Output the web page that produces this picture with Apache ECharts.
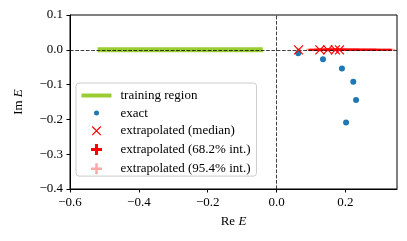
<!DOCTYPE html>
<html><head><meta charset="utf-8">
<script src="https://cdn.jsdelivr.net/npm/echarts@6/dist/echarts.min.js"></script>
<style>html,body{margin:0;padding:0;background:#fff}#c{width:407px;height:241px}</style>
</head><body><div id="c"></div>
<script>
// tick labels
const xTicks = [-0.6, -0.4, -0.2, 0.0, 0.2];
const yTicks = [-0.4, -0.3, -0.2, -0.1, 0.0, 0.1];
// training region (Re E extent, on the real axis)
const trainingRe = [-0.52, -0.04];
const trainingIm = [0, 0];
// exact eigenvalues
const exactRe = [0.063, 0.135, 0.190, 0.223, 0.231, 0.202];
const exactIm = [-0.010, -0.027, -0.054, -0.092, -0.144, -0.209];
// extrapolated medians
const medRe = [0.064, 0.126, 0.149, 0.171, 0.183];
const medIm = [0, 0, 0, 0, 0];
// 68.2% intervals (Re)
const lo68 = [0.061, 0.093, 0.110, 0.130, 0.140];
const hi68 = [0.067, 0.200, 0.240, 0.290, 0.335];
// 95.4% intervals (Re)
const lo95 = [0.058, 0.086, 0.096, 0.110, 0.120];
const hi95 = [0.070, 0.260, 0.300, 0.330, 0.345];
// reference lines
const refRe = 0;
const refIm = 0;

const FONT = 'Liberation Serif';
const fmt = v => (v < 0 ? '\u2212' : '') + Math.abs(v).toFixed(1);

const chart = echarts.init(document.getElementById('c'), null, {renderer: 'canvas'});

function barRender(color, width) {
  return function (params, api) {
    const a = api.coord([api.value(0), api.value(2)]);
    const b = api.coord([api.value(1), api.value(2)]);
    return {type: 'line', shape: {x1: a[0], y1: a[1], x2: b[0], y2: b[1]},
            style: {stroke: color, lineWidth: width, fill: null}};
  };
}

chart.setOption({
  animation: false,
  textStyle: {fontFamily: FONT},
  grid: {left: 70, right: 10, top: 15, bottom: 52, show: true, borderColor: '#000', borderWidth: 1, backgroundColor: 'transparent'},
  xAxis: {
    type: 'value', min: -0.6, max: 0.35, interval: 0.2,
    name: 'Re {i|E}', nameLocation: 'middle', nameGap: 26,
    nameTextStyle: {fontFamily: FONT, fontSize: 13, color: '#000', rich: {i: {fontStyle: 'italic', fontFamily: FONT, fontSize: 13}}},
    splitLine: {show: false},
    axisLine: {show: true, onZero: false, lineStyle: {color: '#000', width: 1}},
    axisTick: {show: true, length: 3.5, lineStyle: {color: '#000'}, customValues: xTicks},
    axisLabel: {color: '#000', fontSize: 13, fontFamily: FONT, margin: 7, formatter: fmt, customValues: xTicks}
  },
  yAxis: {
    type: 'value', min: -0.4, max: 0.1, interval: 0.1,
    name: 'Im {i|E}', nameLocation: 'middle', nameGap: 45,
    nameTextStyle: {fontFamily: FONT, fontSize: 13, color: '#000', rich: {i: {fontStyle: 'italic', fontFamily: FONT, fontSize: 13}}},
    splitLine: {show: false},
    axisLine: {show: true, onZero: false, lineStyle: {color: '#000', width: 1}},
    axisTick: {show: true, length: 3.5, lineStyle: {color: '#000'}, customValues: yTicks},
    axisLabel: {color: '#000', fontSize: 13, fontFamily: FONT, margin: 7, formatter: fmt, customValues: yTicks}
  },
  legend: {
    orient: 'vertical', left: 76, top: 83, padding: [6, 6, 0, 4], itemGap: 4.6,
    itemWidth: 34, itemHeight: 12, selectedMode: false,
    backgroundColor: 'rgba(255,255,255,0.8)', borderColor: '#cccccc', borderWidth: 1, borderRadius: 3,
    textStyle: {fontFamily: FONT, fontSize: 13, color: '#000', lineHeight: 12},
    data: [
      {name: 'training region', icon: 'path://M0,0M34,12M0,4L30,4L30,8L0,8Z', itemStyle: {color: '#9acd32', borderWidth: 0}},
      {name: 'exact', icon: 'path://M0,0M34,12M12.5,6A2.5,2.5,0,1,0,17.5,6A2.5,2.5,0,1,0,12.5,6Z', itemStyle: {color: '#1f77b4', borderWidth: 0}},
      {name: 'extrapolated (median)', icon: 'path://M0,0M34,12M10.7,1.7L19.3,10.3M19.3,1.7L10.7,10.3', itemStyle: {color: 'transparent', borderColor: '#ff0000', borderWidth: 1.2}},
      {name: 'extrapolated (68.2% int.)', icon: 'path://M0,0M34,12M9.5,6L20.5,6M15,0.5L15,11.5', itemStyle: {color: 'transparent', borderColor: '#ff0000', borderWidth: 3}},
      {name: 'extrapolated (95.4% int.)', icon: 'path://M0,0M34,12M9.5,6L20.5,6M15,0.5L15,11.5', itemStyle: {color: 'transparent', borderColor: 'rgba(255,0,0,0.35)', borderWidth: 2.5}}
    ]
  },
  series: [
    {name: 'training region', type: 'line', symbol: 'none', z: 2,
     data: trainingRe.map((x, i) => [x, trainingIm[i]]),
     lineStyle: {color: '#9acd32', width: 5, cap: 'butt'}, itemStyle: {color: '#9acd32'}},
    {name: 'extrapolated (95.4% int.)', type: 'custom', z: 3,
     data: lo95.map((l, i) => [l, hi95[i], medIm[i]]),
     encode: {x: [0, 1], y: 2}, renderItem: barRender('rgba(255,0,0,0.35)', 2),
     itemStyle: {color: 'rgba(255,0,0,0.35)'}},
    {name: 'extrapolated (68.2% int.)', type: 'custom', z: 4,
     data: lo68.map((l, i) => [l, hi68[i], medIm[i]]),
     encode: {x: [0, 1], y: 2}, renderItem: barRender('#ff0000', 2),
     itemStyle: {color: '#ff0000'}},
    {name: 'exact', type: 'scatter', z: 5, symbolSize: 6,
     data: exactRe.map((x, i) => [x, exactIm[i]]),
     itemStyle: {color: '#1f77b4', opacity: 1}},
    {name: 'extrapolated (median)', type: 'scatter', z: 6, symbol: 'path://M0,0L10,10M10,0L0,10', symbolSize: 9,
     data: medRe.map((x, i) => [x, medIm[i]]),
     itemStyle: {color: 'transparent', borderColor: '#ff0000', borderWidth: 1.2, opacity: 1},
     markLine: {silent: true, symbol: 'none', label: {show: false}, animation: false,
       lineStyle: {type: [3.7, 1.6], color: 'rgba(0,0,0,0.75)', width: 1},
       data: [{yAxis: refIm}, {xAxis: refRe}]}}
  ]
});
</script></body></html>
